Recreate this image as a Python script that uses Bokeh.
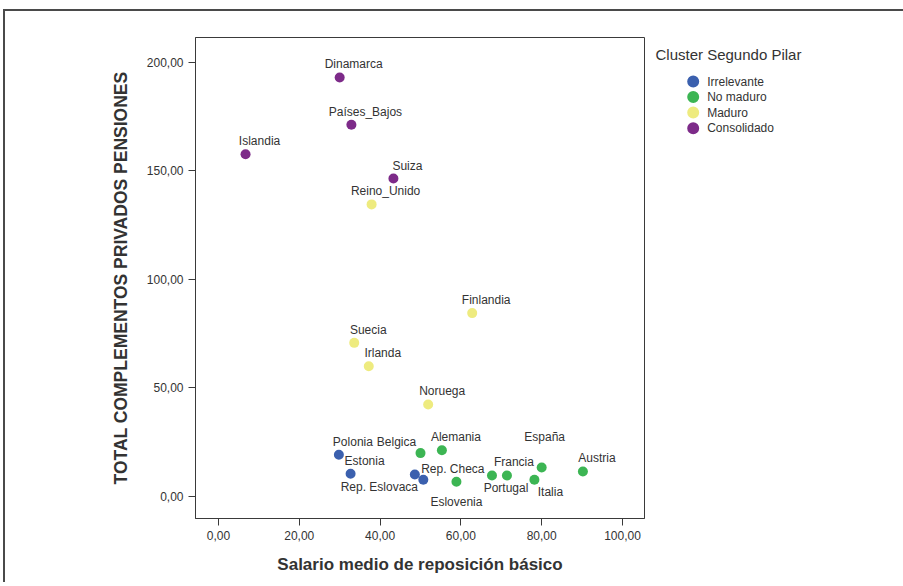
from bokeh.plotting import figure
from bokeh.layouts import row
from bokeh.models import (ColumnDataSource, FixedTicker, CustomJSTickFormatter, Range1d)
from bokeh.core.properties import value
from bokeh.embed import file_html
from bokeh.resources import INLINE

# ---------------- data ----------------
countries = ["Dinamarca", "Países_Bajos", "Islandia", "Suiza", "Reino_Unido",
             "Finlandia", "Suecia", "Irlanda", "Noruega",
             "Polonia", "Estonia", "Rep. Checa", "Rep. Eslovaca",
             "Belgica", "Alemania", "Eslovenia", "Portugal", "Francia",
             "España", "Italia", "Austria"]
salario = [30.0, 32.9, 6.7, 43.3, 37.9,
           62.8, 33.6, 37.2, 51.9,
           29.8, 32.7, 48.6, 50.7,
           50.0, 55.3, 58.9, 67.7, 71.4,
           80.0, 78.2, 90.2]
complementos = [193.1, 171.3, 157.7, 146.5, 134.6,
                84.5, 70.8, 60.0, 42.4,
                19.2, 10.5, 10.1, 7.7,
                20.0, 21.3, 6.8, 9.7, 9.7,
                13.4, 7.7, 11.5]
cluster = ["Consolidado", "Consolidado", "Consolidado", "Consolidado", "Maduro",
           "Maduro", "Maduro", "Maduro", "Maduro",
           "Irrelevante", "Irrelevante", "Irrelevante", "Irrelevante",
           "No maduro", "No maduro", "No maduro", "No maduro", "No maduro",
           "No maduro", "No maduro", "No maduro"]
cluster_order = ["Irrelevante", "No maduro", "Maduro", "Consolidado"]
legend_title = "Cluster Segundo Pilar"
x_ticks = [0, 20, 40, 60, 80, 100]
y_ticks = [0, 50, 100, 150, 200]

# ---------------- styles ----------------
cluster_colors = {"Irrelevante": "#3b60ae", "No maduro": "#3cb553",
                  "Maduro": "#eeeb7f", "Consolidado": "#7d2b89"}
# label placement (screen pixel offsets from each point)
label_dx = [14, 14, 14, 14, 14,
            14, 14, 14, 14,
            14, 14, 38, -44,
            -24, 14, 0, 14, 7,
            3, 16, 14]
label_dy = [-13, -13, -13, -13, -13,
            -13, -13, -13, -13,
            -13, -13, -6, 7,
            -11, -13, 20, 13, -13,
            -30, 12, -14]

FONT = "Liberation Sans"
TXT = "#333333"
LINE = "#3a3a3a"

FRAME_W, FRAME_H = 449, 481
# legend panel geometry (pixels inside the legend panel, whose top is aligned
# with the plot frame top)
LEG_W = 253
LEG_TITLE_X, LEG_TITLE_Y = 5, 16.5
LEG_SW_X, LEG_TXT_X, LEG_Y0, LEG_STEP = 42.7, 56.7, 44, 15.55

p = figure(frame_width=FRAME_W, frame_height=FRAME_H,
           x_range=Range1d(-5.69, 105.45), y_range=Range1d(-10.14, 211.5),
           output_backend="svg", toolbar_location=None,
           min_border_left=190, min_border_top=26,
           min_border_right=6, min_border_bottom=64)
p.xgrid.visible = False
p.ygrid.visible = False
p.outline_line_color = LINE
p.outline_line_width = 1
p.background_fill_color = "white"
p.border_fill_color = "white"

fmt = "return tick.toFixed(2).replace('.', ',');"
for ax, ticks in ((p.xaxis, x_ticks), (p.yaxis, y_ticks)):
    ax.ticker = FixedTicker(ticks=ticks)
    ax.formatter = CustomJSTickFormatter(code=fmt)
    ax.major_tick_in = 0
    ax.major_tick_out = 7
    ax.minor_tick_line_color = None
    ax.axis_line_color = LINE
    ax.major_tick_line_color = LINE
    ax.major_label_text_font = FONT
    ax.major_label_text_font_size = "12px"
    ax.major_label_text_color = TXT
    ax.major_label_standoff = 5
    ax.axis_label_text_font = FONT
    ax.axis_label_text_font_size = "17px"
    ax.axis_label_text_font_style = "bold"
    ax.axis_label_text_color = TXT

p.xaxis.axis_label = "Salario medio de reposición básico"
p.xaxis.axis_label_standoff = 12
p.yaxis.axis_label = "TOTAL COMPLEMENTOS PRIVADOS PENSIONES"
p.yaxis.axis_label_text_font_size = "17.5px"
p.yaxis.axis_label_standoff = 13

for c in cluster_order:
    idx = [i for i, g in enumerate(cluster) if g == c]
    src = ColumnDataSource(dict(x=[salario[i] for i in idx],
                                y=[complementos[i] for i in idx]))
    p.scatter("x", "y", source=src, size=10,
              fill_color=cluster_colors[c], line_color=None)

lab = ColumnDataSource(dict(x=salario, y=complementos, name=countries,
                            dx=label_dx, dy=label_dy))
p.text("x", "y", text="name", x_offset="dx", y_offset="dy", source=lab,
       text_font=value(FONT), text_font_size="12px", text_color=TXT,
       text_align="center", text_baseline="middle")

# ---------------- legend panel ----------------
pl = figure(frame_width=LEG_W, frame_height=FRAME_H,
            x_range=Range1d(0, LEG_W), y_range=Range1d(FRAME_H, 0),
            output_backend="svg", toolbar_location=None, min_border=0,
            x_axis_location=None, y_axis_location=None)
pl.grid.visible = False
pl.outline_line_color = None
pl.background_fill_color = "white"
pl.border_fill_color = "white"

n = len(cluster_order)
leg_src = ColumnDataSource(dict(
    sx=[LEG_SW_X] * n, tx=[LEG_TXT_X] * n,
    y=[LEG_Y0 + k * LEG_STEP for k in range(n)],
    color=[cluster_colors[c] for c in cluster_order],
    label=cluster_order))
pl.scatter("sx", "y", source=leg_src, size=12, fill_color="color", line_color=None)
pl.text("tx", "y", text="label", source=leg_src, text_font=value(FONT),
        text_font_size="12px", text_color=TXT, text_align="left",
        text_baseline="middle")
pl.text(x=[LEG_TITLE_X], y=[LEG_TITLE_Y], text=[legend_title], text_font=value(FONT),
        text_font_size="15px", text_color=TXT, text_align="left",
        text_baseline="middle")

layout = row(p, pl)
layout.styles = {"margin-left": "3px", "margin-top": "9px",
                 "border-top": "2px solid #4a4a4a",
                 "border-left": "2px solid #4a4a4a"}

open("out.html", "w").write(file_html(layout, INLINE))
